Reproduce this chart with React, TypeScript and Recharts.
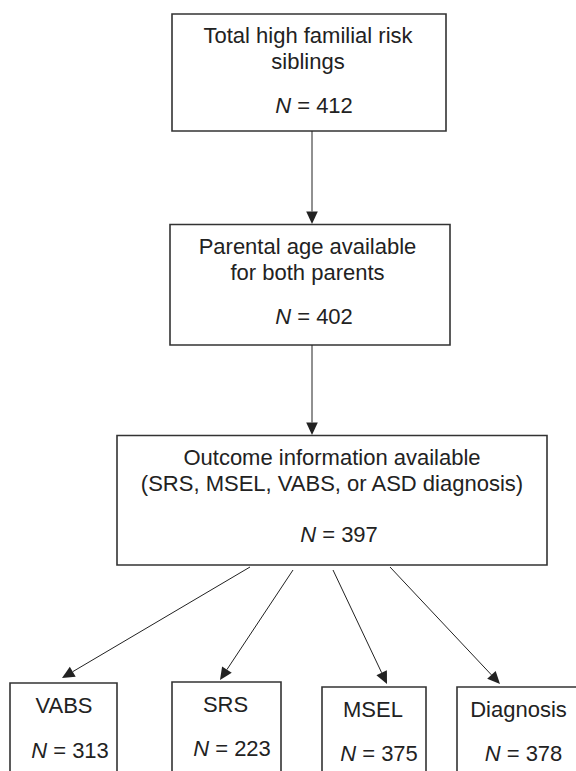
import React from "react";
import { ComposedChart, XAxis, YAxis, ReferenceArea, ReferenceLine, Scatter } from "recharts";

// ---- data ----
const nodeTitles: string[][] = [
  ["Total high familial risk", "siblings"],
  ["Parental age available", "for both parents"],
  ["Outcome information available", "(SRS, MSEL, VABS, or ASD diagnosis)"],
  ["VABS"],
  ["SRS"],
  ["MSEL"],
  ["Diagnosis"],
];
const nodeCounts: number[] = [412, 402, 397, 313, 223, 375, 378];
const edges: [number, number][] = [[0, 1], [1, 2], [2, 3], [2, 4], [2, 5], [2, 6]];

// ---- layout (diagram units) ----
const boxLeft = [172, 170, 117, 10, 172, 322, 457];
const boxRight = [446, 450, 547, 117, 281, 426, 580];
const boxTop = [14, 224.5, 435.5, 683, 682, 687, 687];
const boxBottom = [131, 345, 565, 800, 800, 800, 800];
const titleX = [308, 307.5, 332, 64, 225.5, 373, 518.5];
const titleY = [43, 254, 465, 713, 712, 717, 717];
const countX = [314, 314, 339, 70, 232, 379, 523.5];
const countY = [113, 323.5, 542, 758, 756, 761, 761];
const edgeStart = [[312, 131], [312, 345], [250, 567], [293, 570], [333, 570], [390, 567]];
const edgeEnd = [[312, 224], [312, 435], [62, 678], [220, 680], [387, 684], [500, 684]];

const INK = "#222";
const FONT = "'Liberation Sans', Arial, Helvetica, sans-serif";
const FS = 22;
const LINE = 26;

const Arrow = (props: any) => {
  const { x1, y1, x2, y2 } = props;
  const dx = x2 - x1, dy = y2 - y1;
  const len = Math.sqrt(dx * dx + dy * dy) || 1;
  const ux = dx / len, uy = dy / len;
  const hl = 12.5, hw = 5.8;
  const bx = x2 - ux * hl, by = y2 - uy * hl;
  const px = -uy, py = ux;
  return (
    <g>
      <line x1={x1} y1={y1} x2={bx} y2={by} stroke={INK} strokeWidth={1} />
      <polygon
        points={`${x2},${y2} ${bx + px * hw},${by + py * hw} ${bx - px * hw},${by - py * hw}`}
        fill={INK}
      />
    </g>
  );
};

const titleData = nodeTitles.map((lines, i) => ({ x: titleX[i], y: titleY[i], lines }));
const countData = nodeCounts.map((n, i) => ({ x: countX[i], y: countY[i], n }));

const TitleShape = (props: any) => {
  const { cx, cy, payload } = props;
  return (
    <text x={cx} y={cy} textAnchor="middle" fontFamily={FONT} fontSize={FS} fill={INK}>
      {payload.lines.map((l: string, k: number) => (
        <tspan key={k} x={cx} dy={k === 0 ? 0 : LINE}>{l}</tspan>
      ))}
    </text>
  );
};

const CountShape = (props: any) => {
  const { cx, cy, payload } = props;
  return (
    <text x={cx} y={cy} textAnchor="middle" fontFamily={FONT} fontSize={FS} fill={INK}>
      <tspan fontStyle="italic">N</tspan>
      <tspan> = {payload.n}</tspan>
    </text>
  );
};

export default function App() {
  return (
    <div style={{ position: "absolute", left: 0, top: 0, width: 576, height: 771, background: "#fff" }}>
      <ComposedChart width={576} height={771} margin={{ top: 0, right: 0, bottom: 0, left: 0 }}>
        <XAxis type="number" dataKey="x" domain={[0, 576]} hide allowDataOverflow />
        <YAxis type="number" dataKey="y" domain={[0, 771]} reversed hide allowDataOverflow />
        {nodeTitles.map((_, i) => (
          <ReferenceArea
            key={"b" + i}
            x1={boxLeft[i]}
            x2={boxRight[i]}
            y1={boxTop[i]}
            y2={boxBottom[i]}
            ifOverflow="visible"
            fill="#fff"
            fillOpacity={1}
            stroke="#333"
            strokeWidth={1.6}
          />
        ))}
        {edges.map((_, i) => (
          <ReferenceLine
            key={"e" + i}
            segment={[
              { x: edgeStart[i][0], y: edgeStart[i][1] },
              { x: edgeEnd[i][0], y: edgeEnd[i][1] },
            ]}
            ifOverflow="visible"
            stroke={INK}
            shape={Arrow}
          />
        ))}
        <Scatter data={titleData} dataKey="y" shape={TitleShape} isAnimationActive={false} />
        <Scatter data={countData} dataKey="y" shape={CountShape} isAnimationActive={false} />
      </ComposedChart>
    </div>
  );
}
